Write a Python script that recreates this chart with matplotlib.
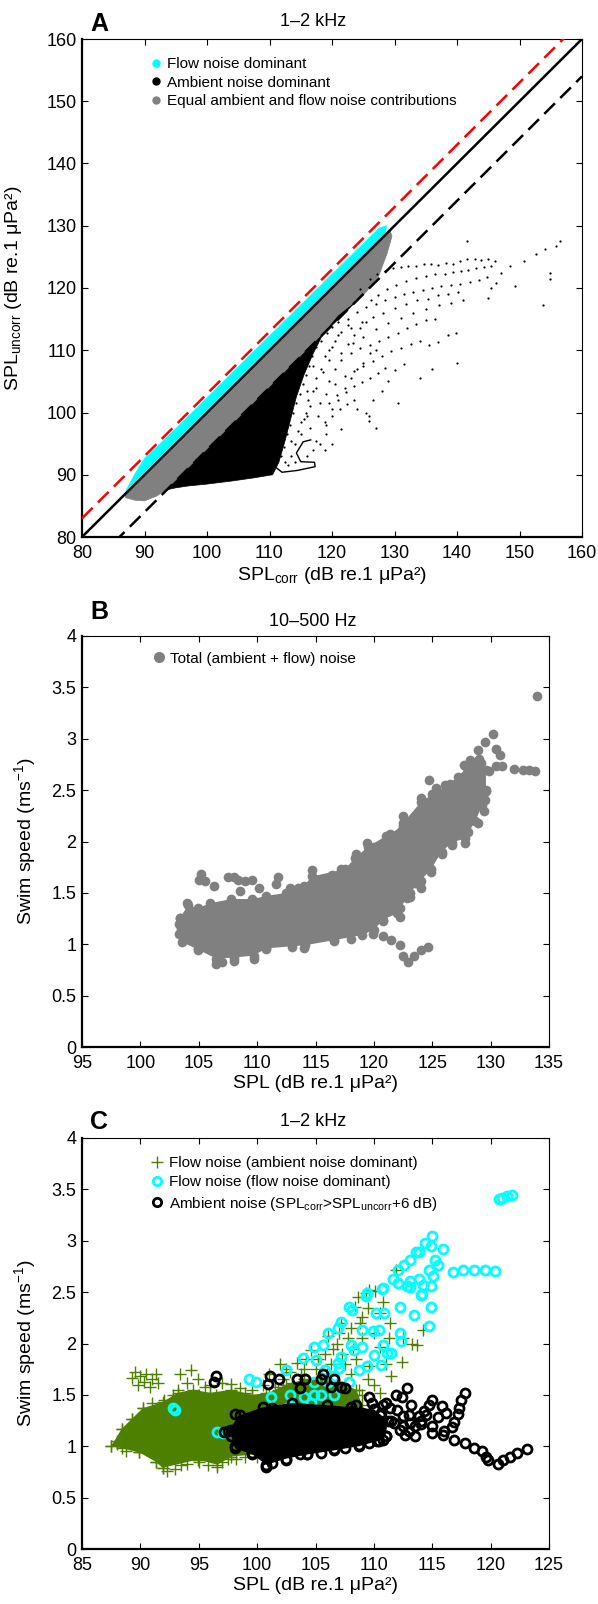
import matplotlib
matplotlib.use("Agg")
import matplotlib.pyplot as plt
from matplotlib.lines import Line2D

plt.rcParams['font.family'] = ['Liberation Sans', 'DejaVu Sans']
plt.rcParams['mathtext.fontset'] = 'custom'
plt.rcParams['mathtext.rm'] = 'Liberation Sans'
plt.rcParams['mathtext.it'] = 'Liberation Sans:italic'
plt.rcParams['mathtext.default'] = 'regular'

CYAN = '#00ffff'
GRAY = '#808080'
GREEN = '#4d7f00'

# ---------------- panel A (1-2 kHz, SPLcorr vs SPLuncorr) ----------------
a_ticks = [80, 90, 100, 110, 120, 130, 140, 150, 160]
a_line_x = [80, 160]
a_red_offset = 3     # dB above unity line
a_black_offset = -6  # dB below unity line

# dense regions (outline of the point clouds)
a_cyan_x = [87.0, 88.5, 90.0, 95.0, 110.0, 127.5, 128.7, 128.6]
a_cyan_y = [87.4, 90.2, 92.6, 97.4, 112.3, 129.6, 130.0, 128.9]
a_gray_x = [86.8, 129.3, 129.6, 128.8, 127.5, 125.5, 124.0, 94.0, 92.0, 90.0, 88.5, 87.0]
a_gray_y = [86.9, 129.2, 128.3, 125.5, 122.0, 119.4, 118.0, 88.0, 86.6, 85.8, 85.9, 86.3]
a_black_x = [93.6, 123.5, 121.0, 118.5, 117.0, 115.5, 114.3, 113.4, 112.5, 111.5, 110.5,
             107.5, 104.0, 100.0, 97.0, 95.0]
a_black_y = [87.6, 117.5, 115.5, 112.5, 109.5, 106.0, 102.5, 99.0, 95.5, 92.0, 90.0,
             89.5, 89.0, 88.5, 88.2, 87.9]
a_loop_x = [111.0, 112.0, 114.5, 117.3, 117.2, 115.0, 114.3, 115.4, 116.6]
a_loop_y = [91.2, 90.4, 90.7, 91.3, 92.0, 92.1, 93.5, 95.3, 95.6]

# sparse ambient-dominant points
a_dots_x = [124.5, 126.0, 127.2, 128.5, 129.8, 131.0, 132.2, 133.5, 134.7, 135.8, 137.0, 138.2,
            139.4, 140.5, 141.6, 142.8, 143.9, 145.0, 146.0, 145.5, 144.3, 143.0, 141.8, 140.6,
            139.3, 138.0, 136.5, 135.0, 133.4, 131.8, 130.2, 128.8, 127.4, 126.2,
            122.5, 124.0, 125.5, 127.0, 128.5, 130.0, 131.5, 133.0, 134.5, 136.0, 137.5, 139.0,
            140.5, 142.0, 143.5, 144.8, 123.0, 124.8, 126.5, 128.2, 130.0, 131.8, 133.6, 135.3,
            137.0, 138.6, 140.2, 141.0, 139.0, 137.2, 135.0, 133.0, 131.0, 129.0, 127.0, 125.0,
            123.3, 121.5, 123.0, 124.5, 126.0, 127.5, 129.0, 130.5, 132.0, 133.5, 135.0, 136.5,
            120.5, 122.0, 123.5, 125.0, 126.6, 128.0, 129.5, 131.0, 132.6, 134.0, 135.5, 137.0,
            138.5, 139.8, 119.5, 120.8, 122.2, 123.5, 124.8, 126.0, 127.3, 128.5, 130.0, 131.5,
            118.8, 120.0, 121.2, 122.4, 123.5, 125.9, 125.9, 121.5, 118.8, 117.5, 116.5, 119.0,
            120.0, 124.0, 126.5, 128.0, 129.0, 116.5, 117.5, 118.5, 119.5, 120.0, 121.0, 119.0,
            117.8, 115.5, 116.0, 117.0, 141.6, 144.9, 147.1, 148.5, 149.3, 150.7, 152.6, 154.0,
            155.9, 156.4, 154.8, 154.8, 153.7, 146.3, 145.5, 140.0, 136.0, 134.0, 130.5, 127.0,
            125.5,
            111.8, 112.3, 112.8, 113.3, 113.8, 114.3, 114.8, 115.3, 115.8, 116.3, 116.8, 117.5,
            118.3, 119.2, 120.0, 121.0, 112.5, 113.5, 114.0, 114.5, 115.0, 115.8, 116.2, 117.0,
            117.5, 118.2, 118.8, 119.5, 120.5, 121.5, 122.5, 113.0, 114.0, 116.0, 117.0, 118.0,
            119.0, 120.0, 121.0, 122.0, 123.0, 124.0, 125.0, 126.0, 127.0, 119.5, 120.5, 121.5,
            122.5, 123.5, 124.5, 125.5, 118.0, 116.0, 115.0, 113.5]
a_dots_y = [119.8, 121.5, 122.3, 122.8, 123.2, 123.3, 123.6, 123.5, 123.8, 123.9, 123.7, 124.0,
            123.8, 124.3, 124.6, 124.6, 124.5, 124.7, 124.4, 123.6, 123.4, 123.2, 122.9, 122.7,
            122.5, 122.3, 122.2, 121.9, 121.6, 121.2, 120.5, 119.8, 118.9, 118.0,
            115.0, 116.2, 117.0, 117.4, 118.1, 118.6, 119.0, 119.3, 119.6, 120.0, 120.3, 120.5,
            120.6, 120.9, 121.3, 121.8, 113.5, 114.6, 115.3, 116.0, 116.8, 117.4, 118.0, 118.3,
            118.8, 119.1, 119.4, 118.1, 117.6, 117.2, 116.6, 116.0, 115.2, 114.4, 113.4, 112.2,
            111.2, 108.5, 109.6, 110.3, 110.9, 111.5, 112.2, 112.8, 113.6, 114.2, 114.8, 115.1,
            104.5, 105.8, 106.7, 107.4, 108.3, 109.0, 109.8, 110.4, 111.0, 111.5, 110.8, 111.3,
            112.5, 112.7, 101.5, 102.8, 103.3, 104.2, 104.9, 105.6, 106.4, 107.2, 106.8, 107.8,
            98.5, 99.5, 100.5, 101.4, 102.0, 99.5, 98.7, 97.4, 93.9, 95.5, 97.5, 96.5,
            95.0, 100.5, 102.0, 103.5, 105.0, 101.0, 104.0, 106.5, 108.5, 110.5, 112.5, 103.0,
            99.5, 99.0, 103.5, 107.5, 127.5, 118.4, 122.4, 123.5, 120.3, 124.3, 125.4, 126.2,
            126.7, 127.5, 122.4, 121.4, 117.2, 120.8, 120.0, 108.0, 107.0, 105.5, 101.5, 97.5,
            100.0,
            93.0, 94.5, 96.5, 98.0, 100.0, 101.5, 103.0, 104.5, 106.0, 107.5, 109.0, 110.5,
            111.5, 112.8, 113.8, 114.5, 92.0, 93.0, 95.0, 97.0, 98.5, 100.0, 102.0, 103.5,
            105.5, 107.0, 109.0, 110.0, 111.5, 113.0, 114.0, 91.5, 92.0, 93.0, 94.0, 95.0,
            98.0, 100.5, 102.0, 104.0, 105.5, 107.0, 108.0, 109.5, 110.0, 105.0, 107.0, 109.5,
            111.0, 112.5, 113.5, 114.5, 101.5, 99.5, 96.5, 95.5]

# ---------------- panel B (10-500 Hz) ----------------
b_xticks = [95, 100, 105, 110, 115, 120, 125, 130, 135]
speed_ticks = [0, 0.5, 1, 1.5, 2, 2.5, 3, 3.5, 4]
speed_labels = ['0', '0.5', '1', '1.5', '2', '2.5', '3', '3.5', '4']

b_core_x = [103.4, 103.3, 103.6, 104.9, 106.5, 108.0, 109.7, 110.8, 114.1, 116.6, 119.0, 120.0,
            120.8, 122.0, 122.8, 123.5, 124.5, 125.0, 124.0, 122.5, 121.0, 119.5, 118.4, 117.5,
            114.7, 114.0, 112.5, 110.8, 109.6, 107.8, 106.0, 104.9, 104.1]
b_core_y = [1.26, 1.10, 1.02, 0.95, 0.86, 0.87, 0.89, 0.96, 0.99, 1.04, 1.09, 1.14,
            1.24, 1.30, 1.45, 1.60, 1.75, 1.95, 2.10, 2.15, 2.05, 1.95, 1.84, 1.73,
            1.66, 1.57, 1.50, 1.47, 1.44, 1.44, 1.40, 1.35, 1.38]
b_arm_x = [120.8, 122.2, 123.1, 124.0, 124.9, 125.8, 126.7, 127.8, 128.7, 129.3, 129.6, 129.6,
           129.0, 128.0, 126.5, 125.0, 124.0, 122.5, 121.4, 120.0]
b_arm_y = [1.30, 1.35, 1.50, 1.62, 1.73, 1.90, 1.99, 2.03, 2.20, 2.36, 2.50, 2.70,
           2.80, 2.72, 2.56, 2.46, 2.38, 2.18, 2.05, 1.95]
b_pts_x = [125.8, 126.7, 127.8, 128.1, 128.9, 129.4, 129.5, 129.6, 129.4, 128.1, 126.6, 124.0,
           125.3, 126.1, 127.2, 128.6, 128.9, 129.9, 130.5, 129.2, 127.7, 128.2, 128.9, 130.5,
           130.8, 129.5, 130.2, 131.0, 132.0, 132.8, 133.3, 133.8, 134.0,
           125.0, 125.5, 126.2, 127.0, 127.5, 126.5, 125.8, 124.5, 123.5, 122.5, 123.0, 124.8,
           126.0, 128.0, 128.5, 127.0, 125.5, 126.8, 124.7, 121.4, 120.5, 119.4, 118.5, 119.8,
           121.5, 122.5, 123.3, 124.0, 124.9, 123.7,
           105.2, 105.5, 105.0, 106.3, 107.5, 108.0, 108.4, 109.0, 109.6, 110.2, 108.5, 111.8,
           111.6, 112.8, 114.7, 115.5, 116.4, 117.2, 115.0, 113.5,
           120.8, 121.5, 122.2, 122.5, 122.9, 123.4, 124.0, 124.6, 119.9,
           106.5, 107.0, 108.0, 109.7, 104.0, 103.5, 103.3, 114.0, 118.0, 113.0, 103.4, 104.9,
           110.8, 116.6, 120.8, 122.2, 123.1]
b_pts_y = [1.88, 1.97, 1.99, 2.09, 2.18, 2.30, 2.40, 2.49, 2.47, 2.40, 2.47, 2.42,
           2.52, 2.55, 2.63, 2.66, 2.56, 2.69, 2.73, 2.76, 2.74, 2.79, 2.89, 2.90,
           2.84, 2.97, 3.05, 2.73, 2.71, 2.70, 2.70, 2.69, 3.42,
           2.30, 2.20, 2.35, 2.25, 2.15, 2.10, 2.05, 2.15, 2.25, 2.25, 2.00, 2.00,
           2.00, 2.30, 2.45, 2.45, 2.40, 2.55, 2.60, 2.07, 1.95, 1.99, 1.88, 1.80,
           1.85, 1.75, 1.62, 1.55, 1.70, 1.60,
           1.68, 1.62, 1.63, 1.57, 1.65, 1.65, 1.63, 1.62, 1.63, 1.55, 1.52, 1.65,
           1.59, 1.55, 1.72, 1.62, 1.67, 1.73, 1.55, 1.55,
           1.08, 1.04, 0.99, 0.89, 0.83, 0.89, 0.94, 0.97, 1.10,
           0.81, 0.83, 0.84, 0.86, 1.40, 1.15, 1.20, 0.96, 1.05, 0.97, 1.26, 0.94,
           0.95, 1.03, 1.23, 1.27, 1.46]

# ---------------- panel C (1-2 kHz) ----------------
c_xticks = [85, 90, 95, 100, 105, 110, 115, 120, 125]

c_green_core_x = [87.5, 88.4, 89.3, 90.2, 91.9, 93.2, 94.5, 96.0, 97.8, 99.6, 101.0, 102.5,
                  104.0, 105.5, 107.0, 108.5, 109.0, 108.0, 104.5, 103.7, 100.8, 97.8, 96.6,
                  94.9, 91.9, 91.3, 89.9, 88.4]
c_green_core_y = [1.00, 1.17, 1.27, 1.37, 1.43, 1.52, 1.55, 1.52, 1.55, 1.50, 1.52, 1.60,
                  1.65, 1.65, 1.62, 1.55, 1.40, 1.30, 1.20, 1.00, 0.93, 0.90, 0.82,
                  0.87, 0.79, 0.85, 0.94, 0.98]
c_green_x = [89.5, 90.0, 90.5, 91.0, 91.5, 89.8, 90.8, 90.3, 89.3, 91.3,
             93.2, 93.4, 94.3, 94.0, 94.9, 95.5, 96.0, 97.0, 97.8, 98.5, 99.6, 100.8,
             101.5, 102.2, 102.8, 103.4, 104.0, 104.6, 105.2, 106.1, 106.5, 107.2, 107.8, 108.4,
             108.8, 109.3, 109.6, 110.1, 111.9, 109.0, 110.0, 111.4, 110.5, 109.6, 108.7, 108.1,
             107.5, 106.6, 105.5, 106.0, 105.0, 104.0, 103.0, 107.0, 108.0, 108.5, 107.5, 106.0,
             113.7, 113.3, 112.4, 111.5, 110.5, 114.2, 112.5, 111.0, 109.5,
             87.5, 88.0, 88.4, 89.3, 90.2, 91.0, 91.9, 92.3, 91.3, 89.9, 96.6, 95.0,
             93.5, 97.5, 99.0,
             100.5, 101.0, 101.8, 102.5, 103.0, 103.8, 104.2, 105.0, 105.8, 106.3, 106.8, 107.3,
             107.0, 108.0, 108.2, 109.0, 109.5, 108.6, 110.5, 110.8, 111.3, 104.5, 105.5, 106.5,
             107.8, 109.0, 110.0, 102.0,
             93.0, 94.0, 95.8, 97.0, 98.2, 100.0, 101.5, 88.8, 88.0, 89.0, 90.0, 92.0,
             92.8, 95.0, 96.5, 98.0, 99.0]
c_green_y = [1.72, 1.68, 1.70, 1.65, 1.62, 1.60, 1.58, 1.63, 1.66, 1.70,
             1.55, 1.70, 1.74, 1.62, 1.65, 1.58, 1.60, 1.62, 1.61, 1.57, 1.55, 1.52,
             1.58, 1.65, 1.72, 1.81, 1.75, 1.94, 1.85, 2.07, 1.95, 2.20, 2.05, 2.36,
             2.20, 2.49, 2.52, 2.51, 2.72, 2.26, 2.10, 2.20, 1.97, 1.78, 1.55, 1.42,
             1.30, 1.13, 1.25, 1.40, 1.50, 1.55, 1.50, 1.60, 1.70, 1.85, 1.80, 1.70,
             1.99, 2.00, 1.82, 1.68, 1.52, 2.13, 2.05, 1.80, 1.65,
             1.00, 1.05, 1.17, 1.27, 1.37, 1.42, 0.79, 0.76, 0.85, 0.94, 0.80, 0.85,
             0.82, 0.88, 0.90,
             1.60, 1.70, 1.55, 1.75, 1.62, 1.70, 1.85, 1.75, 1.90, 1.80, 2.00, 1.90,
             2.10, 2.15, 1.95, 2.05, 2.35, 2.45, 2.30, 2.40, 2.05, 1.62, 1.60, 1.55,
             1.50, 1.50, 1.60, 1.80,
             0.78, 0.83, 0.82, 0.85, 0.88, 0.90, 0.92, 0.95, 1.02, 1.10, 1.25, 1.45,
             1.50, 1.50, 1.50, 1.48, 1.52]

c_cyan_x = [120.7, 121.0, 121.4, 121.8, 116.8, 117.6, 118.6, 119.5, 120.4,
            115.0, 114.4, 113.6, 113.9, 115.9, 114.9, 113.1, 112.6, 112.1, 115.2, 115.5, 114.7,
            113.1, 113.9, 115.1, 112.8, 111.6, 114.9, 114.1, 109.4, 110.7,
            110.8, 112.1, 113.1, 114.0, 114.9, 114.7, 114.2, 109.3, 108.1, 107.9, 110.2, 110.9,
            113.4, 112.2, 107.2, 106.9, 106.1, 109.0, 109.9, 110.4, 112.2, 112.3, 110.8, 111.1,
            111.5, 110.6, 110.0, 109.0, 108.3, 108.0, 108.7, 109.4, 107.2, 106.9, 107.0, 105.6,
            104.9, 105.0, 103.9, 102.5, 105.8, 106.6, 107.9, 104.9, 106.1, 104.9, 104.0, 102.8,
            101.2, 106.6, 105.5, 104.6, 102.8, 101.3, 99.3, 99.9, 92.8, 93.0, 96.6, 97.1]
c_cyan_y = [3.41, 3.42, 3.44, 3.45, 2.70, 2.72, 2.72, 2.72, 2.71,
            3.05, 2.98, 2.89, 2.89, 2.92, 2.95, 2.81, 2.76, 2.72, 2.81, 2.76, 2.72,
            2.61, 2.63, 2.66, 2.56, 2.63, 2.56, 2.48, 2.49, 2.53,
            2.54, 2.59, 2.55, 2.47, 2.36, 2.17, 2.57, 2.46, 2.33, 2.36, 2.30, 2.30,
            2.28, 2.36, 2.21, 2.15, 2.10, 2.13, 2.12, 2.13, 2.10, 2.02, 1.99, 1.91,
            1.91, 1.79, 1.89, 1.97, 1.94, 1.99, 1.74, 1.78, 1.87, 1.81, 1.76, 1.99,
            1.97, 1.84, 1.86, 1.74, 1.74, 1.68, 1.63, 1.63, 1.63, 1.50, 1.48, 1.50,
            1.48, 1.50, 1.50, 1.42, 1.39, 1.31, 1.65, 1.63, 1.37, 1.35, 1.14, 1.13]

c_black_core_x = [97.5, 98.5, 100.5, 103.0, 106.0, 108.0, 110.0, 111.2, 111.0, 110.3, 108.7,
                  106.6, 104.3, 102.5, 100.8, 99.6, 98.1, 97.8]
c_black_core_y = [1.15, 1.30, 1.38, 1.42, 1.40, 1.38, 1.36, 1.25, 1.10, 1.05, 1.00,
                  0.96, 0.92, 0.88, 0.82, 0.92, 0.98, 1.10]
c_black_x = [123.1, 122.3, 121.7, 121.1, 120.6, 119.8, 119.6, 119.3, 118.6, 117.8, 116.9, 115.9,
             115.0, 117.8, 117.5, 117.3, 117.2, 116.9, 116.7, 116.2, 115.8, 115.0, 114.7, 114.3,
             113.9, 112.8, 112.4, 111.9, 109.6, 110.8, 111.4, 112.5, 113.1, 112.2, 112.7, 111.7,
             110.6, 110.8, 110.4, 109.6, 108.7, 108.9, 109.3, 109.0,
             96.5, 96.3, 101.1, 100.9, 101.9, 103.4, 104.1, 103.7, 105.6, 105.5, 106.6, 107.2,
             106.3, 107.5,
             98.1, 97.2, 97.8, 98.1, 99.6, 100.8, 101.3, 102.5, 103.7, 104.3, 105.5, 106.6,
             107.5, 101.3, 103.7, 106.1, 108.1, 113.5, 114.0, 113.0,
             110.0, 110.5, 111.0, 111.5, 112.0, 112.5, 113.0, 113.5, 114.0, 114.5, 115.0, 115.5,
             116.0, 113.2, 111.0, 109.8, 108.5, 98.7, 99.2, 98.5]
c_black_y = [0.97, 0.93, 0.90, 0.87, 0.83, 0.87, 0.90, 0.95, 0.98, 1.03, 1.06, 1.11,
             1.13, 1.52, 1.45, 1.37, 1.31, 1.24, 1.19, 1.32, 1.39, 1.45, 1.40, 1.34,
             1.29, 1.57, 1.48, 1.50, 1.48, 1.40, 1.37, 1.29, 1.23, 1.16, 1.11, 1.23,
             1.32, 1.06, 1.05, 1.03, 1.01, 1.19, 1.26, 1.32,
             1.68, 1.63, 1.68, 1.61, 1.65, 1.65, 1.65, 1.57, 1.70, 1.65, 1.65, 1.58,
             1.58, 1.57,
             1.31, 1.14, 1.16, 1.00, 0.93, 0.80, 0.84, 0.87, 0.92, 0.92, 0.93, 0.97,
             0.98, 1.37, 1.35, 1.32, 1.34, 1.20, 1.25, 1.15,
             1.15, 1.30, 1.10, 1.25, 1.35, 1.20, 1.30, 1.10, 1.22, 1.30, 1.20, 1.28,
             1.15, 1.40, 1.42, 1.42, 1.40, 1.25, 1.05, 1.18]


fig = plt.figure(figsize=(5.98, 16.04), dpi=100)
H = 1604.0
W = 598.0


def add_axes(left, top, right, bottom):
    return fig.add_axes([left / W, 1 - bottom / H, (right - left) / W, (bottom - top) / H])


def style(ax):
    ax.tick_params(direction='in', length=4, width=0.8, top=True, right=True,
                   labelsize=13)
    ax.tick_params(axis='x', pad=6)
    ax.tick_params(axis='y', pad=4)
    for s in ['left', 'bottom']:
        ax.spines[s].set_linewidth(1.6)
    for s in ['top', 'right']:
        ax.spines[s].set_linewidth(0.8)


# ---- A ----
axA = add_axes(82, 39, 582, 537)
axA.fill(a_gray_x, a_gray_y, color=GRAY, lw=0.5, ec=GRAY, zorder=2)
axA.fill(a_cyan_x, a_cyan_y, color=CYAN, lw=0.5, ec=CYAN, zorder=2)
axA.fill(a_black_x, a_black_y, color='black', lw=0.5, ec='black', zorder=2)
axA.plot(a_loop_x, a_loop_y, color='black', lw=1.0, zorder=2)
axA.plot(a_dots_x, a_dots_y, 'o', color='black', ms=1.6, mew=0, zorder=2)
axA.plot(a_line_x, a_line_x, color='black', lw=1.8, zorder=3)
axA.plot(a_line_x, [v + a_red_offset for v in a_line_x], color='red', lw=1.8,
         ls=(0, (6, 3)), zorder=3)
axA.plot(a_line_x, [v + a_black_offset for v in a_line_x], color='black', lw=1.8,
         ls=(0, (6, 3)), zorder=3)
axA.set_xlim(80, 160)
axA.set_ylim(80, 160)
axA.set_xticks(a_ticks)
axA.set_yticks(a_ticks)
style(axA)
axA.set_xlabel('SPL$_{corr}$ (dB re.1 μPa²)', fontsize=14, labelpad=2)
axA.set_ylabel('SPL$_{uncorr}$ (dB re.1 μPa²)', fontsize=14)
axA.yaxis.set_label_coords(-0.115, 0.5)
handlesA = [Line2D([], [], marker='o', ls='none', color=CYAN, ms=5),
            Line2D([], [], marker='o', ls='none', color='black', ms=5),
            Line2D([], [], marker='o', ls='none', color=GRAY, ms=5)]
axA.legend(handlesA, ['Flow noise dominant', 'Ambient noise dominant',
                      'Equal ambient and flow noise contributions'],
           loc='upper left', bbox_to_anchor=(0.139, 0.964), frameon=False, fontsize=11,
           handlelength=0.6, handletextpad=0.4, labelspacing=0.3, borderpad=0,
           borderaxespad=0)

# ---- B ----
axB = add_axes(82, 636, 549, 1047)
axB.fill(b_core_x, b_core_y, color=GRAY, lw=0, zorder=2)
axB.fill(b_arm_x, b_arm_y, color=GRAY, lw=0, zorder=2)
axB.plot(b_core_x, b_core_y, 'o', color=GRAY, ms=7, mew=0, zorder=2)
axB.plot(b_arm_x, b_arm_y, 'o', color=GRAY, ms=7, mew=0, zorder=2)
axB.plot(b_pts_x, b_pts_y, 'o', color=GRAY, ms=7, mew=0, zorder=2)
axB.set_xlim(95, 135)
axB.set_ylim(0, 4)
axB.set_xticks(b_xticks)
axB.set_yticks(speed_ticks)
axB.set_yticklabels(speed_labels)
style(axB)
axB.set_xlabel('SPL (dB re.1 μPa²)', fontsize=14, labelpad=2)
axB.set_ylabel('Swim speed (ms$^{−1}$)', fontsize=14)
axB.yaxis.set_label_coords(-0.095, 0.5)
axB.legend([Line2D([], [], marker='o', ls='none', color=GRAY, ms=7)],
           ['Total (ambient + flow) noise'],
           loc='upper left', bbox_to_anchor=(0.155, 0.962), frameon=False, fontsize=11,
           handlelength=0.6, handletextpad=0.4, borderpad=0, borderaxespad=0)

# ---- C ----
axC = add_axes(82, 1138, 549, 1549)
axC.fill(c_green_core_x, c_green_core_y, color=GREEN, lw=0, zorder=2)
axC.plot(c_green_core_x, c_green_core_y, '+', color=GREEN, ms=8, mew=1.0, zorder=2)
axC.plot(c_green_x, c_green_y, '+', color=GREEN, ms=8, mew=1.0, zorder=2)
axC.plot(c_cyan_x, c_cyan_y, 'o', mfc='none', mec=CYAN, ms=6.5, mew=2.0, zorder=3)
axC.fill(c_black_core_x, c_black_core_y, color='black', lw=0, zorder=4)
axC.plot(c_black_core_x, c_black_core_y, 'o', mfc='none', mec='black', ms=6.5, mew=2.0,
         zorder=4)
axC.plot(c_black_x, c_black_y, 'o', mfc='none', mec='black', ms=6.5, mew=2.0, zorder=4)
axC.set_xlim(85, 125)
axC.set_ylim(0, 4)
axC.set_xticks(c_xticks)
axC.set_yticks(speed_ticks)
axC.set_yticklabels(speed_labels)
style(axC)
axC.set_xlabel('SPL (dB re.1 μPa²)', fontsize=14, labelpad=2)
axC.set_ylabel('Swim speed (ms$^{−1}$)', fontsize=14)
axC.yaxis.set_label_coords(-0.095, 0.5)
handlesC = [Line2D([], [], marker='+', ls='none', color=GREEN, ms=9, mew=1.0),
            Line2D([], [], marker='o', ls='none', mfc='none', mec=CYAN, ms=6, mew=2.0),
            Line2D([], [], marker='o', ls='none', mfc='none', mec='black', ms=6, mew=2.0)]
axC.legend(handlesC, ['Flow noise (ambient noise dominant)', 'Flow noise (flow noise dominant)',
                      'Ambient noise (SPL$_{corr}$>SPL$_{uncorr}$+6 dB)'],
           loc='upper left', bbox_to_anchor=(0.150, 0.956), frameon=False, fontsize=11,
           handlelength=0.7, handletextpad=0.4, labelspacing=0.35, borderpad=0,
           borderaxespad=0)

# titles and panel letters
for title, ty in [('1–2 kHz', 22), ('10–500 Hz', 622), ('1–2 kHz', 1122)]:
    fig.text(313 / W, 1 - ty / H, title, ha='center', va='center', fontsize=13)
for letter, ly in [('A', 24), ('B', 612), ('C', 1122)]:
    fig.text(90 / W, 1 - ly / H, letter, ha='left', va='center', fontsize=18,
             fontweight='bold')

fig.savefig('out.png', dpi=100)
